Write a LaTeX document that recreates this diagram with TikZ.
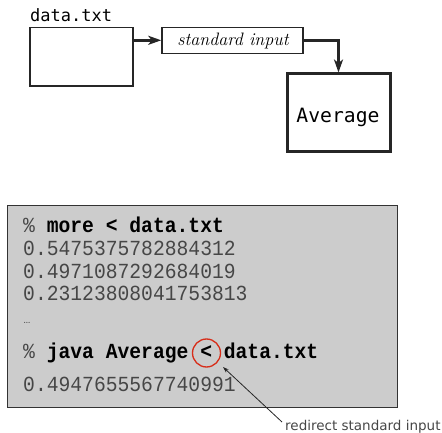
\documentclass[tikz,border=0pt]{standalone}
\usepackage{fontspec}
\setmainfont{Latin Modern Roman}
\newfontfamily\dvmono{DejaVu Sans Mono}
\newfontfamily\cour[FakeStretch=0.915]{Liberation Mono}
\newfontfamily\lblfont{DejaVu Sans}
\usetikzlibrary{arrows.meta}
\definecolor{boxgray}{RGB}{204,204,204}
\definecolor{txtgray}{RGB}{70,70,70}
\definecolor{circred}{RGB}{215,45,25}
\tikzset{
  plainbox/.style={draw=black!85, line width=1.5pt, inner sep=0pt},
  thickbox/.style={draw=black!85, line width=3pt, inner sep=0pt},
  term/.style={anchor=base west, inner sep=0pt, font=\cour\fontsize{21.5}{21.5}\selectfont, text=txtgray},
  flow/.style={draw=black!85, line width=2.6pt, -{Stealth[length=13pt,width=9pt,inset=3.5pt]}},
}
\begin{document}
\begin{tikzpicture}[x=1pt,y=-1pt]
\useasboundingbox (0,0) rectangle (442,433);
% top part
\node[anchor=base west, inner sep=0pt, font=\dvmono\fontsize{17}{17}\selectfont] (lbl) at (30,21.7) {data.txt};
\node[plainbox, minimum width=103pt, minimum height=58.7pt] (data) at (81.5,56.7) {};
\node[plainbox, minimum width=141pt, minimum height=26pt] (stdin) at (232.5,40.3) {};
\node[anchor=base, inner sep=0pt, font=\itshape\fontsize{18}{18}\selectfont] (stdintxt) at (233,45.5) {standard input};
\node[thickbox, minimum width=103pt, minimum height=78pt] (avg) at (338.5,113) {};
\node[anchor=base, inner sep=0pt, font=\dvmono\fontsize{19.7}{19.7}\selectfont] (avgtxt) at (338,122.7) {Average};
\draw[flow] (stdin.west -| data.east) -- (stdin.west);
\draw[flow] (stdin.east) -| (avg.north);
% terminal
\node[draw=black!80, fill=boxgray, line width=1pt, minimum width=390pt, minimum height=202pt, inner sep=0pt] (term) at (202,306.5) {};
\node[term] (l1) at (23,233) {\%\ \textcolor{black}{\textbf{more < data.txt}}};
\node[term] (l2) at (23,255.5) {0.5475375782884312};
\node[term] (l3) at (23,278) {0.4971087292684019};
\node[term] (l4) at (23,300.5) {0.23123808041753813};
\node[anchor=base west, inner sep=0pt, font=\fontsize{12}{12}\selectfont, text=txtgray] (l5) at (23,323) {\ldots};
\node[term] (l6) at (23,358) {\%\ \textcolor{black}{\textbf{java Average < data.txt}}};
\node[term] (l7) at (23,391) {0.4947655567740991};
\node[draw=circred, line width=1.3pt, circle, minimum size=28pt, inner sep=0pt] (circ) at (206.5,353) {};
\node[anchor=base west, inner sep=0pt, font=\lblfont\fontsize{13.5}{13.5}\selectfont, text=txtgray] (note) at (285,430) {redirect standard input};
\coordinate (tail) at (282,422);
\draw[black!85, line width=0.8pt, -{Stealth[length=6pt,width=4pt]}] (tail) -- (223,367);
\end{tikzpicture}
\end{document}
